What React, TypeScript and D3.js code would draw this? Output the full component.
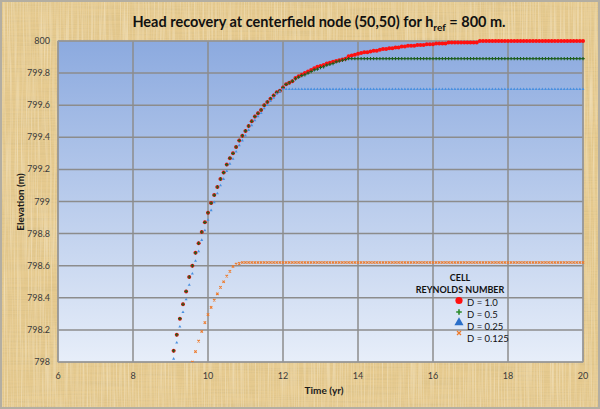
import React from 'react';
import * as d3 from 'd3';

const W = 600;
const H = 409;

// time grid: monthly samples, index k -> 9 + k/12 years
const baseYear = 9;
const monthsPerYear = 12;

const xTicks = [6, 8, 10, 12, 14, 16, 18, 20];
const yTicks = [798, 798.2, 798.4, 798.6, 798.8, 799, 799.2, 799.4, 799.6, 799.8, 800];
const yTickLabels = ['798', '798.2', '798.4', '798.6', '798.8', '799', '799.2', '799.4', '799.6', '799.8', '800'];

const legendTitle = ['CELL', 'REYNOLDS NUMBER'];
const seriesNames = ['D = 1.0', 'D = 0.5', 'D = 0.25', 'D = 0.125'];

// first month index of each series
const seriesStart = [1, 1, 1, 7];

const d10 = [
  798.07, 798.17, 798.27, 798.36, 798.44, 798.53, 798.60, 798.68, 798.74, 798.81,
  798.87, 798.93, 798.99, 799.04, 799.09, 799.14, 799.18, 799.23, 799.27, 799.30,
  799.34, 799.38, 799.41, 799.44, 799.47, 799.50, 799.53, 799.55, 799.57, 799.60,
  799.62, 799.64, 799.66, 799.68, 799.69, 799.71, 799.73, 799.74, 799.75, 799.77,
  799.78, 799.79, 799.80, 799.81, 799.82, 799.83, 799.84, 799.845, 799.85, 799.86,
  799.865, 799.87, 799.875, 799.88, 799.885, 799.89, 799.905, 799.91, 799.915, 799.92,
  799.925, 799.93, 799.93, 799.935, 799.94, 799.94, 799.945, 799.95, 799.95, 799.955,
  799.955, 799.96, 799.96, 799.965, 799.965, 799.97, 799.97, 799.97, 799.975, 799.975,
  799.975, 799.98, 799.98, 799.98, 799.985, 799.985, 799.985, 799.985, 799.99, 799.99,
  799.99, 799.99, 799.99, 799.99, 799.99, 799.99, 799.99, 799.99, 800, 800,
  800, 800, 800, 800, 800, 800, 800, 800, 800, 800,
  800, 800, 800, 800, 800, 800, 800, 800, 800, 800,
  800, 800, 800, 800, 800, 800, 800, 800, 800, 800,
  800, 800,
];

const d05 = [
  798.07, 798.17, 798.27, 798.36, 798.44, 798.53, 798.60, 798.68, 798.74, 798.81,
  798.87, 798.93, 798.99, 799.04, 799.09, 799.14, 799.18, 799.23, 799.27, 799.30,
  799.34, 799.38, 799.41, 799.44, 799.47, 799.50, 799.53, 799.55, 799.57, 799.60,
  799.62, 799.64, 799.66, 799.68, 799.69, 799.71, 799.73, 799.74, 799.75, 799.765,
  799.775, 799.785, 799.79, 799.80, 799.81, 799.82, 799.825, 799.835, 799.84, 799.85,
  799.855, 799.86, 799.87, 799.875, 799.88, 799.885, 799.89, 799.89, 799.89, 799.89,
  799.89, 799.89, 799.89, 799.89, 799.89, 799.89, 799.89, 799.89, 799.89, 799.89,
  799.89, 799.89, 799.89, 799.89, 799.89, 799.89, 799.89, 799.89, 799.89, 799.89,
  799.89, 799.89, 799.89, 799.89, 799.89, 799.89, 799.89, 799.89, 799.89, 799.89,
  799.89, 799.89, 799.89, 799.89, 799.89, 799.89, 799.89, 799.89, 799.89, 799.89,
  799.89, 799.89, 799.89, 799.89, 799.89, 799.89, 799.89, 799.89, 799.89, 799.89,
  799.89, 799.89, 799.89, 799.89, 799.89, 799.89, 799.89, 799.89, 799.89, 799.89,
  799.89, 799.89, 799.89, 799.89, 799.89, 799.89, 799.89, 799.89, 799.89, 799.89,
  799.89, 799.89,
];

const d025 = [
  798.02, 798.12, 798.22, 798.31, 798.39, 798.48, 798.55, 798.63, 798.69, 798.76,
  798.82, 798.885, 798.945, 798.995, 799.05, 799.10, 799.14, 799.19, 799.235, 799.265,
  799.31, 799.35, 799.38, 799.41, 799.445, 799.475, 799.505, 799.53, 799.55, 799.58,
  799.60, 799.625, 799.645, 799.67, 799.685, 799.70, 799.70, 799.70, 799.70, 799.70,
  799.70, 799.70, 799.70, 799.70, 799.70, 799.70, 799.70, 799.70, 799.70, 799.70,
  799.70, 799.70, 799.70, 799.70, 799.70, 799.70, 799.70, 799.70, 799.70, 799.70,
  799.70, 799.70, 799.70, 799.70, 799.70, 799.70, 799.70, 799.70, 799.70, 799.70,
  799.70, 799.70, 799.70, 799.70, 799.70, 799.70, 799.70, 799.70, 799.70, 799.70,
  799.70, 799.70, 799.70, 799.70, 799.70, 799.70, 799.70, 799.70, 799.70, 799.70,
  799.70, 799.70, 799.70, 799.70, 799.70, 799.70, 799.70, 799.70, 799.70, 799.70,
  799.70, 799.70, 799.70, 799.70, 799.70, 799.70, 799.70, 799.70, 799.70, 799.70,
  799.70, 799.70, 799.70, 799.70, 799.70, 799.70, 799.70, 799.70, 799.70, 799.70,
  799.70, 799.70, 799.70, 799.70, 799.70, 799.70, 799.70, 799.70, 799.70, 799.70,
  799.70, 799.70,
];

const d0125 = [
  798.00, 798.065, 798.13, 798.19, 798.245, 798.295, 798.34, 798.385, 798.425, 798.465,
  798.50, 798.535, 798.565, 798.595, 798.61, 798.615, 798.62, 798.62, 798.62, 798.62,
  798.62, 798.62, 798.62, 798.62, 798.62, 798.62, 798.62, 798.62, 798.62, 798.62,
  798.62, 798.62, 798.62, 798.62, 798.62, 798.62, 798.62, 798.62, 798.62, 798.62,
  798.62, 798.62, 798.62, 798.62, 798.62, 798.62, 798.62, 798.62, 798.62, 798.62,
  798.62, 798.62, 798.62, 798.62, 798.62, 798.62, 798.62, 798.62, 798.62, 798.62,
  798.62, 798.62, 798.62, 798.62, 798.62, 798.62, 798.62, 798.62, 798.62, 798.62,
  798.62, 798.62, 798.62, 798.62, 798.62, 798.62, 798.62, 798.62, 798.62, 798.62,
  798.62, 798.62, 798.62, 798.62, 798.62, 798.62, 798.62, 798.62, 798.62, 798.62,
  798.62, 798.62, 798.62, 798.62, 798.62, 798.62, 798.62, 798.62, 798.62, 798.62,
  798.62, 798.62, 798.62, 798.62, 798.62, 798.62, 798.62, 798.62, 798.62, 798.62,
  798.62, 798.62, 798.62, 798.62, 798.62, 798.62, 798.62, 798.62, 798.62, 798.62,
  798.62, 798.62, 798.62, 798.62, 798.62, 798.62,
];

const seriesValues = [d10, d05, d025, d0125];

const PL = 58, PR = 583, PT = 41, PB = 362;
const FONT = 'Lato, "Open Sans", sans-serif';

const x = d3.scaleLinear().domain([6, 20]).range([PL, PR]);
const y = d3.scaleLinear().domain([798, 800]).range([PB, PT]);

function toPoints(vals: number[], start: number) {
  return vals.map((v, i) => ({ t: baseYear + (start + i) / monthsPerYear, v }));
}

const triPath = (s: number) => d3.symbol(d3.symbolTriangle, s)() as string;

function Marker({ kind, cx, cy, big }: { kind: number; cx: number; cy: number; big?: boolean }) {
  if (kind === 0) {
    return <circle cx={cx} cy={cy} r={big ? 3.6 : 2} fill="#ff1010" />;
  }
  if (kind === 1) {
    const a = big ? 2.8 : 1.7;
    return (
      <path
        d={`M${cx - a},${cy}H${cx + a}M${cx},${cy - a}V${cy + a}`}
        stroke={big ? '#2a8a2a' : '#1d5e1d'}
        strokeWidth={big ? 1.6 : 1.1}
      />
    );
  }
  if (kind === 2) {
    return <path d={triPath(big ? 36 : 4)} transform={`translate(${cx},${cy})`} fill={big ? '#2a6fc9' : '#4a90e0'} />;
  }
  const a = big ? 2 : 1.2;
  return (
    <path
      d={`M${cx - a},${cy - a}L${cx + a},${cy + a}M${cx - a},${cy + a}L${cx + a},${cy - a}`}
      stroke="#ee7a2a"
      strokeWidth={big ? 1.3 : 1.1}
    />
  );
}

export default function App() {
  const legendX = 459;
  const legendRows = [302, 314, 326, 338];
  const legendMarkerDy = [-1.5, -2, -3.5, -5];
  return (
    <div style={{ position: 'fixed', left: 0, top: 0 }}>
      <svg width={W} height={H} style={{ display: 'block' }}>
        <defs>
          <linearGradient id="plotbg" x1="0" y1="0" x2="0" y2="1">
            <stop offset="0%" stopColor="#8caadf" />
            <stop offset="100%" stopColor="#e7eef9" />
          </linearGradient>
          <filter id="fibers" x="0" y="0" width="100%" height="100%">
            <feTurbulence type="fractalNoise" baseFrequency="0.015 0.7" numOctaves="2" seed="4" result="n1" />
            <feColorMatrix in="n1" type="matrix"
              values="0 0 0 0 0.62  0 0 0 0 0.48  0 0 0 0 0.22  0 0 0 1.2 -0.45" result="c1" />
            <feTurbulence type="fractalNoise" baseFrequency="0.7 0.015" numOctaves="2" seed="9" result="n2" />
            <feColorMatrix in="n2" type="matrix"
              values="0 0 0 0 1  0 0 0 0 0.95  0 0 0 0 0.8  0 0 0 1.2 -0.5" result="c2" />
            <feMerge>
              <feMergeNode in="c1" />
              <feMergeNode in="c2" />
            </feMerge>
          </filter>
          <clipPath id="plotclip">
            <rect x={PL} y={PT - 3} width={PR - PL + 3} height={PB - PT + 3} />
          </clipPath>
        </defs>

        {/* papyrus background */}
        <rect x={0} y={0} width={W} height={H} fill="#e6ca8f" />
        <rect x={0} y={0} width={W} height={H} filter="url(#fibers)" opacity={0.7} />
        <rect x={1} y={1} width={W - 2} height={H - 2} fill="none" stroke="#b3aea2" strokeWidth={2} />

        {/* plot area */}
        <rect x={PL} y={PT} width={PR - PL} height={PB - PT} fill="url(#plotbg)" />
        <g stroke="#8c8c8c" strokeWidth={1.5}>
          {yTicks.map((t) => (
            <line key={'h' + t} x1={PL} x2={PR} y1={y(t)} y2={y(t)} />
          ))}
          {xTicks.map((t) => (
            <line key={'v' + t} x1={x(t)} x2={x(t)} y1={PT} y2={PB} />
          ))}
        </g>
        <rect x={PL} y={PT} width={PR - PL} height={PB - PT} fill="none" stroke="#9a9a9a" strokeWidth={1} />

        {/* tick labels */}
        <g fontFamily={FONT} fontSize={9} fill="#3a3a3a">
          {yTicks.map((t, i) => (
            <text key={'yl' + t} x={PL - 8} y={y(t) + 3} textAnchor="end">{yTickLabels[i]}</text>
          ))}
          {xTicks.map((t) => (
            <text key={'xl' + t} x={x(t)} y={379} textAnchor="middle">{t}</text>
          ))}
        </g>

        {/* axis titles */}
        <text x={324} y={394} textAnchor="middle" fontFamily={FONT} fontWeight="bold" fontSize={10} fill="#1a1a1a">Time (yr)</text>
        <text transform={`translate(24,202) rotate(-90)`} textAnchor="middle" fontFamily={FONT} fontWeight="bold" fontSize={10} fill="#1a1a1a">Elevation (m)</text>

        {/* title */}
        <text x={319} y={27} textAnchor="middle" fontFamily={FONT} fontWeight="bold" fontSize={14.5} fill="#111">
          Head recovery at centerfield node (50,50) for h
          <tspan fontSize={10} dy={4}>ref</tspan>
          <tspan dy={-4}> = 800 m.</tspan>
        </text>

        {/* series */}
        <g clipPath="url(#plotclip)">
          {seriesValues.map((vals, si) => (
            <g key={'s' + si}>
              {toPoints(vals, seriesStart[si]).map((p, i) => (
                <Marker key={i} kind={si} cx={x(p.t)} cy={y(p.v)} />
              ))}
            </g>
          ))}
        </g>

        {/* legend */}
        <g fontFamily={FONT} fill="#111">
          <text x={legendX + 1} y={281} textAnchor="middle" fontWeight="bold" fontSize={9}>{legendTitle[0]}</text>
          <text x={legendX + 1} y={293} textAnchor="middle" fontWeight="bold" fontSize={9}>{legendTitle[1]}</text>
          {seriesNames.map((n, i) => (
            <g key={n}>
              <Marker kind={i} cx={legendX} cy={legendRows[i] + legendMarkerDy[i]} big />
              <text x={legendX + 8} y={legendRows[i] + 3.5} fontSize={9.5}>{n}</text>
            </g>
          ))}
        </g>
      </svg>
    </div>
  );
}
